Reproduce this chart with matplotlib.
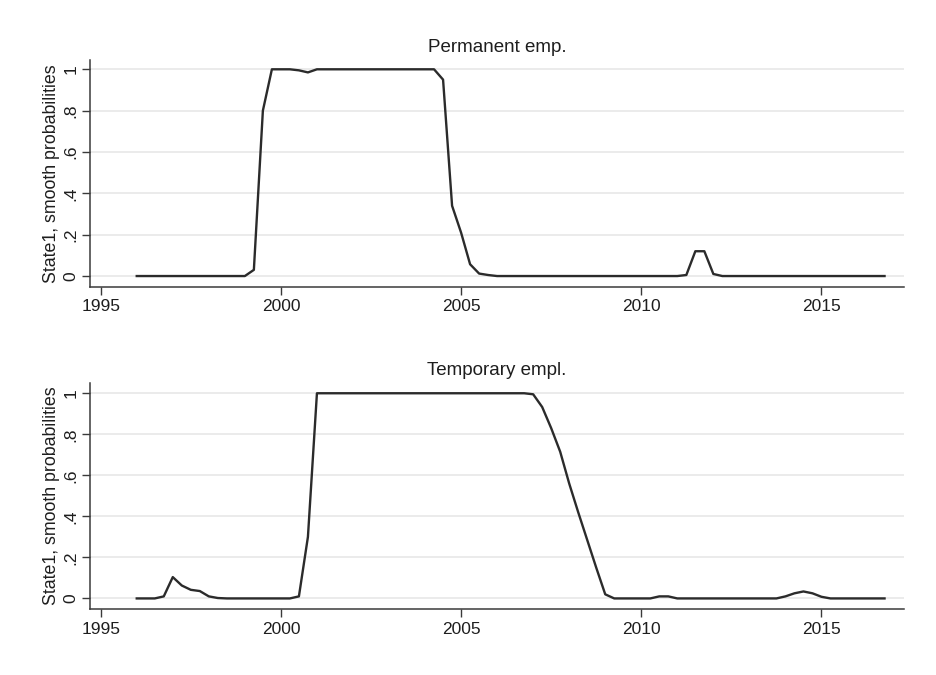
import matplotlib
matplotlib.use("Agg")
import matplotlib.pyplot as plt
import numpy as np

plt.rcParams['font.family'] = ['Liberation Sans', 'DejaVu Sans']

# Quarterly dates 1996q1 .. 2016q4
quarters = [1996 + 0.25 * i for i in range(84)]

perm = [0.0]*12 + [0.0, 0.03, 0.80, 1.0,            # 1999
        1.0, 1.0, 0.995, 0.985,                     # 2000
        1.0, 1.0, 1.0, 1.0,                         # 2001
        1.0, 1.0, 1.0, 1.0,                         # 2002
        1.0, 1.0, 1.0, 1.0,                         # 2003
        1.0, 1.0, 0.95, 0.34,                       # 2004
        0.21, 0.057, 0.012, 0.005,                  # 2005
        0.0, 0.0, 0.0, 0.0,                         # 2006
        0.0, 0.0, 0.0, 0.0,                         # 2007
        0.0, 0.0, 0.0, 0.0,                         # 2008
        0.0, 0.0, 0.0, 0.0,                         # 2009
        0.0, 0.0, 0.0, 0.0,                         # 2010
        0.0, 0.005, 0.12, 0.12,                     # 2011
        0.01, 0.0, 0.0, 0.0,                        # 2012
        0.0, 0.0, 0.0, 0.0,                         # 2013
        0.0, 0.0, 0.0, 0.0,                         # 2014
        0.0, 0.0, 0.0, 0.0,                         # 2015
        0.0, 0.0, 0.0, 0.0]                         # 2016

temp = [0.0, 0.0, 0.0, 0.01,                        # 1996
        0.104, 0.063, 0.042, 0.036,                 # 1997
        0.01, 0.002, 0.0, 0.0,                      # 1998
        0.0, 0.0, 0.0, 0.0,                         # 1999
        0.0, 0.0, 0.01, 0.30,                       # 2000
        1.0, 1.0, 1.0, 1.0,                         # 2001
        1.0, 1.0, 1.0, 1.0,                         # 2002
        1.0, 1.0, 1.0, 1.0,                         # 2003
        1.0, 1.0, 1.0, 1.0,                         # 2004
        1.0, 1.0, 1.0, 1.0,                         # 2005
        1.0, 1.0, 1.0, 1.0,                         # 2006
        0.995, 0.933, 0.83, 0.715,                  # 2007
        0.56, 0.42, 0.285, 0.15,                    # 2008
        0.02, 0.0, 0.0, 0.0,                        # 2009
        0.0, 0.0, 0.01, 0.01,                       # 2010
        0.0, 0.0, 0.0, 0.0,                         # 2011
        0.0, 0.0, 0.0, 0.0,                         # 2012
        0.0, 0.0, 0.0, 0.0,                         # 2013
        0.01, 0.025, 0.034, 0.025,                  # 2014
        0.008, 0.0, 0.0, 0.0,                       # 2015
        0.0, 0.0, 0.0, 0.0]                         # 2016

titles = ["Permanent emp.", "Temporary empl."]
series = [perm, temp]
ylabel = "State1, smooth probabilities"
xticks = [1995, 2000, 2005, 2010, 2015]
yticks = [0, 0.2, 0.4, 0.6, 0.8, 1.0]
yticklabels = ["0", ".2", ".4", ".6", ".8", "1"]

W, H = 937, 675
fig = plt.figure(figsize=(W/100, H/100), dpi=100)
fig.patch.set_facecolor('white')

# axes boxes in pixels: (left, top, right, bottom), ylim
boxes = [((90, 60, 904, 287), (-0.053, 1.045)),
         ((90, 383, 904, 609), (-0.0515, 1.05))]
axcol = '#3a3a3a'
txtcol = '#1e1e1e'
for ((l, t, r, b), ylim), title, ys in zip(boxes, titles, series):
    ax = fig.add_axes([l/W, 1 - b/H, (r-l)/W, (b-t)/H])
    ax.plot(quarters, ys, color='#2b2b2b', lw=1.7)
    ax.set_xlim(1994.703, 2017.29)
    ax.set_ylim(*ylim)
    ax.set_xticks(xticks)
    ax.set_xticklabels([str(x) for x in xticks], fontsize=12.5, color=txtcol)
    ax.set_yticks(yticks)
    ax.set_yticklabels(yticklabels, fontsize=12.5, rotation=90, va='center', color=txtcol)
    ax.set_ylabel(ylabel, fontsize=12.8, color=txtcol)
    ax.yaxis.set_label_coords(-0.037, 0.5)
    ax.set_title(title, fontsize=13.5, color=txtcol, pad=6)
    for s in ['top', 'right']:
        ax.spines[s].set_visible(False)
    for s in ['left', 'bottom']:
        ax.spines[s].set_color(axcol)
        ax.spines[s].set_linewidth(1.1)
    ax.tick_params(axis='both', direction='out', length=6, width=1.0, color=axcol)
    ax.tick_params(axis='x', pad=3)
    ax.tick_params(axis='y', pad=2.5)
    ax.yaxis.grid(True, color='#e9e9e9', lw=1.3)
    ax.set_axisbelow(True)

fig.savefig('out.png', dpi=100, facecolor='white')
